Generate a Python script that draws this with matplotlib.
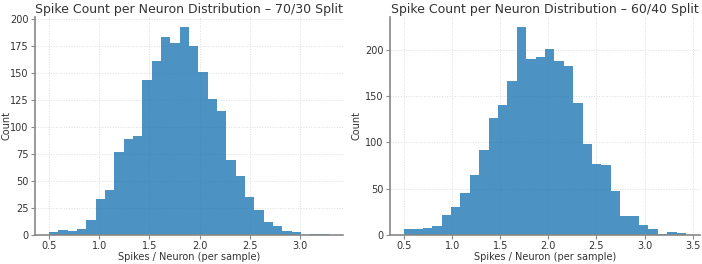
# Spike count per neuron histograms for two train/test splits

import numpy as np
import matplotlib
matplotlib.use("Agg")
import matplotlib.pyplot as plt

# ---------------------------------------------------------
# DATA (counts, 30 bins each)
# ---------------------------------------------------------

split_titles = [
    "Spike Count per Neuron Distribution \u2013 70/30 Split",
    "Spike Count per Neuron Distribution \u2013 60/40 Split",
]

range_7030 = (0.5, 3.29)
counts_7030 = [3, 5, 4, 6, 14, 33, 42, 77, 89, 92,
               143, 161, 183, 178, 192, 175, 151, 126, 115, 69,
               55, 35, 23, 12, 8, 4, 3, 0, 1, 1]

range_6040 = (0.5, 3.43)
counts_6040 = [7, 7, 8, 10, 22, 30, 45, 65, 92, 126,
               140, 166, 224, 190, 192, 201, 188, 182, 142, 98,
               77, 75, 47, 21, 20, 11, 6, 1, 3, 2]

x_label = "Spikes / Neuron (per sample)"
y_label = "Count"

# ---------------------------------------------------------
# STYLE
# ---------------------------------------------------------

plt.rcParams["font.family"] = "DejaVu Sans"
plt.rcParams["text.color"] = "#333333"
plt.rcParams["axes.labelcolor"] = "#333333"

fig = plt.figure(figsize=(7.02, 2.64), dpi=100)

ax1 = fig.add_axes([35 / 702, 29 / 264, 308 / 702, 218 / 264])
ax2 = fig.add_axes([390 / 702, 29 / 264, 310 / 702, 218 / 264])

data = [
    (ax1, range_7030, counts_7030, split_titles[0], 11),
    (ax2, range_6040, counts_6040, split_titles[1], 362),
]

for ax, rng, counts, title, ylab_x in data:

    edges = np.linspace(rng[0], rng[1], len(counts) + 1)

    ax.hist(edges[:-1], bins=edges, weights=counts,
            color="#1f77b4", alpha=0.8)

    ax.set_title(title, fontsize=9, color="#333333", pad=3)
    ax.set_xlabel(x_label, fontsize=7)
    ax.set_ylabel(y_label, fontsize=7)

    # place axis labels where the reference has them
    pos = ax.get_position()
    ax.xaxis.set_label_coords(0.5, -16.5 / 218)
    ax.yaxis.set_label_coords((ylab_x - pos.x0 * 702) / (pos.width * 702), 0.5)

    ax.tick_params(labelsize=7, length=3, width=0.8, pad=1.5,
                   labelcolor="#333333", color="#888888")

    ax.grid(True, color="#dddddd", linestyle=":", linewidth=0.7)
    ax.set_axisbelow(True)

    for side in ["top", "right"]:
        ax.spines[side].set_visible(False)
    for side in ["left", "bottom"]:
        ax.spines[side].set_color("#888888")
        ax.spines[side].set_linewidth(1.2)

ax1.set_xticks([0.5, 1.0, 1.5, 2.0, 2.5, 3.0])
ax2.set_xticks([0.5, 1.0, 1.5, 2.0, 2.5, 3.0, 3.5])

fig.savefig("out.png", dpi=100)
